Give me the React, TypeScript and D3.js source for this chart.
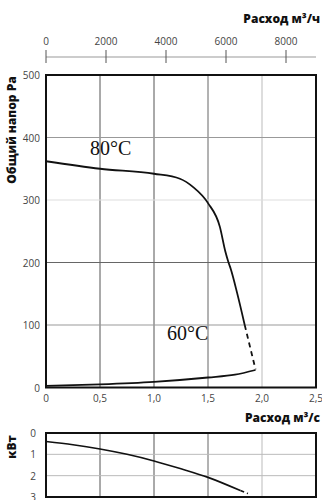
import React from 'react';
import * as d3 from 'd3';

// flow in m3/s, pressure in Pa
const curve80 = [
  [0, 362], [0.5, 350], [1.0, 342], [1.24, 334], [1.36, 321], [1.5, 295],
  [1.61, 257], [1.66, 218], [1.69, 200], [1.71, 190], [1.77, 151], [1.84, 100],
];
const curve80Dashed = [[1.84, 100], [1.94, 29]];
const curve60 = [
  [0, 2.5], [0.5, 5], [1.0, 9], [1.5, 16], [1.75, 20.5], [1.94, 28],
];
// power in kW
const powerSolid = [
  [0, 0.4], [0.25, 0.55], [0.5, 0.75], [0.75, 1.0], [1.0, 1.31],
  [1.25, 1.68], [1.5, 2.08], [1.8, 2.7],
];
const powerDashed = [[1.8, 2.7], [1.87, 2.84]];

const xTicks = [0, 0.5, 1.0, 1.5, 2.0, 2.5];
const topTicks = [0, 2000, 4000, 6000, 8000];
const yTicks = [0, 100, 200, 300, 400, 500];
const pTicks = [0, 1, 2, 3];

const gridV = [
  { v: 0.5, c: '#555' }, { v: 1.0, c: '#555' }, { v: 1.5, c: '#666' }, { v: 2.0, c: '#bbb' },
];
const gridH = [
  { v: 100, c: '#999' }, { v: 200, c: '#666' }, { v: 300, c: '#ddd' }, { v: 400, c: '#999' },
];

const W = 322;
const H = 500;
const left = 46;
const right = 316;

const App = () => {
  const x = d3.scaleLinear().domain([0, 2.5]).range([left, right]);
  const xh = d3.scaleLinear().domain([0, 9000]).range([left, right]);
  const y = d3.scaleLinear().domain([0, 500]).range([387.5, 75]);
  const yp = d3.scaleLinear().domain([0, 3]).range([433, 497]);

  const line = d3.line<number[]>().x(d => x(d[0])).y(d => y(d[1])).curve(d3.curveMonotoneX);
  const pline = d3.line<number[]>().x(d => x(d[0])).y(d => yp(d[1])).curve(d3.curveMonotoneX);

  const tickFont = { fontFamily: 'Open Sans, sans-serif', fontSize: 10, fill: '#444' };
  const titleFont = { fontFamily: 'Open Sans, sans-serif', fontSize: 12, fontWeight: 800, fill: '#111' };

  const fmt = (v: number) => (v === 0 ? '0' : v.toFixed(1).replace('.', ','));

  return (
    <div style={{ position: 'absolute', left: 0, top: 0 }}>
      <svg width={W} height={H} style={{ display: 'block', background: '#fff' }}>
        {/* top axis m3/h */}
        <text x={320} y={23} textAnchor="end" style={titleFont}>
          Расход м³/ч
        </text>
        <line x1={xh(0)} x2={right} y1={57} y2={57} stroke="#999" strokeWidth={1.2} />
        {topTicks.map(t => (
          <g key={t}>
            <line x1={xh(t)} x2={xh(t)} y1={50} y2={63} stroke="#555" />
            <text x={xh(t)} y={45} textAnchor="middle" style={tickFont}>{t}</text>
          </g>
        ))}

        {/* main plot */}
        {gridV.map(g => (
          <line key={g.v} x1={x(g.v)} x2={x(g.v)} y1={y(500)} y2={y(0)} stroke={g.c} strokeWidth={1} />
        ))}
        {gridH.map(g => (
          <line key={g.v} x1={left} x2={right} y1={y(g.v)} y2={y(g.v)} stroke={g.c} strokeWidth={1} />
        ))}
        <rect x={left} y={y(500)} width={right - left} height={y(0) - y(500)} fill="none" stroke="#111" strokeWidth={2} />
        {yTicks.map(t => (
          <text key={t} x={40} y={y(t) + 4} textAnchor="end" style={tickFont}>{t}</text>
        ))}
        {xTicks.map(t => (
          <text key={t} x={x(t)} y={402} textAnchor="middle" style={tickFont}>{fmt(t)}</text>
        ))}
        <text transform={`translate(16,130) rotate(-90)`} textAnchor="middle" style={titleFont}>
          Общий напор Pa
        </text>

        <path d={line(curve80) || ''} fill="none" stroke="#111" strokeWidth={1.8} />
        <path d={line(curve80Dashed) || ''} fill="none" stroke="#111" strokeWidth={1.8} strokeDasharray="5,4" />
        <path d={line(curve60) || ''} fill="none" stroke="#111" strokeWidth={1.8} />

        <text x={90} y={155} style={{ fontFamily: 'Liberation Serif, serif', fontSize: 20, fill: '#111' }}>80°C</text>
        <text x={167} y={340} style={{ fontFamily: 'Liberation Serif, serif', fontSize: 20, fill: '#111' }}>60°C</text>

        {/* power plot */}
        <text x={320} y={422} textAnchor="end" style={titleFont}>
          Расход м³/с
        </text>
        {gridV.map(g => (
          <line key={g.v} x1={x(g.v)} x2={x(g.v)} y1={yp(0)} y2={yp(3)} stroke={g.c} strokeWidth={1} />
        ))}
        {[1, 2].map(v => (
          <line key={v} x1={left} x2={right} y1={yp(v)} y2={yp(v)} stroke="#bbb" strokeWidth={1} />
        ))}
        <rect x={left} y={yp(0)} width={right - left} height={yp(3) - yp(0)} fill="none" stroke="#111" strokeWidth={2} />
        {pTicks.map(t => (
          <text key={t} x={36} y={yp(t) + 4} textAnchor="end" style={tickFont}>{t}</text>
        ))}
        <text transform={`translate(16,447) rotate(-90)`} textAnchor="middle" style={titleFont}>
          кВт
        </text>
        <path d={pline(powerSolid) || ''} fill="none" stroke="#111" strokeWidth={1.6} />
        <path d={pline(powerDashed) || ''} fill="none" stroke="#111" strokeWidth={1.6} strokeDasharray="4,3" />
      </svg>
    </div>
  );
};

export default App;
